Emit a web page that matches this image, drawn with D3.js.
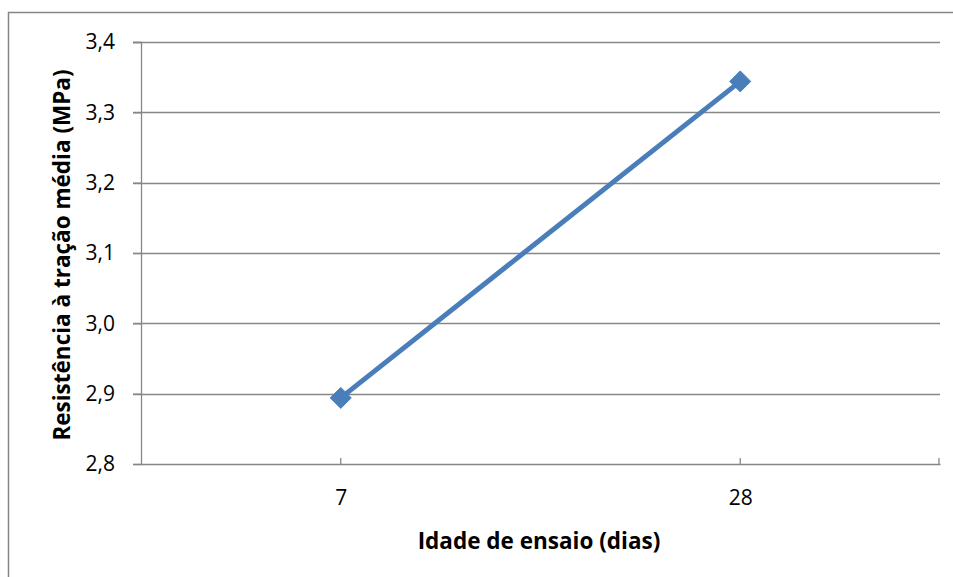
<!DOCTYPE html>
<html>
<head>
<meta charset="utf-8">
<script src="https://cdn.jsdelivr.net/npm/d3@7"></script>
<style>
  html, body { margin: 0; padding: 0; background: #fff; }
  svg { display: block; }
  text { font-family: "Open Sans", sans-serif; fill: #000; }
</style>
</head>
<body>
<svg id="chart" width="953" height="577"></svg>
<script>
// Ensaio de tração: resistência média por idade
const categories = ["7", "28"];
const values = [2.894, 3.344];
const yTicks = [2.8, 2.9, 3.0, 3.1, 3.2, 3.3, 3.4];

const svg = d3.select("#chart");
const W = 953, H = 577;
const m = { left: 141, right: 13, top: 42, bottom: 113 };
const plotW = W - m.left - m.right;
const plotH = H - m.top - m.bottom;
const FONT = "'Open Sans', sans-serif";

// outer chart frame
svg.append("rect")
  .attr("x", 8.5).attr("y", 12.5)
  .attr("width", W).attr("height", H)
  .attr("fill", "none").attr("stroke", "#868686").attr("stroke-width", 1.5);

const g = svg.append("g").attr("transform", `translate(${m.left},${m.top})`);

const x = d3.scalePoint().domain(categories).range([0, plotW]).padding(0.5);
const y = d3.scaleLinear().domain([2.8, 3.4]).range([plotH, 0]);
const fmt = v => d3.format(".1f")(v).replace(".", ",");

// horizontal gridlines
g.append("g").selectAll("line").data(yTicks.slice(1)).join("line")
  .attr("x1", -8).attr("x2", plotW)
  .attr("y1", d => Math.round(y(d)) + 0.5).attr("y2", d => Math.round(y(d)) + 0.5)
  .attr("stroke", "#878787").attr("stroke-width", 1.3);

// y axis
const yAxis = g.append("g")
  .call(d3.axisLeft(y).tickValues(yTicks).tickFormat(fmt).tickSize(8).tickPadding(18));
yAxis.select(".domain").attr("stroke", "#878787").attr("stroke-width", 1.3);
yAxis.selectAll(".tick line").attr("stroke", "#878787").attr("stroke-width", 1.3);
yAxis.selectAll(".tick text").style("font-size", "21px").style("font-family", FONT).attr("fill", "#000");

// x axis
const xAxis = g.append("g").attr("transform", `translate(0,${plotH})`)
  .call(d3.axisBottom(x).tickSize(0).tickPadding(26));
xAxis.select(".domain").attr("stroke", "#878787").attr("stroke-width", 1.3);
xAxis.selectAll(".tick text").style("font-size", "21px").style("font-family", FONT).attr("fill", "#000");
// inward tick marks at categories and at the right end
const xt = categories.map(c => x(c)).concat([plotW - 1]);
g.append("g").selectAll("line").data(xt).join("line")
  .attr("x1", d => d).attr("x2", d => d)
  .attr("y1", plotH - 6).attr("y2", plotH)
  .attr("stroke", "#878787").attr("stroke-width", 1.3);

// series line
const pts = categories.map((c, i) => [x(c), y(values[i])]);
g.append("path")
  .attr("d", d3.line()(pts))
  .attr("fill", "none").attr("stroke", "#4A7EBB").attr("stroke-width", 5)
  .attr("stroke-linecap", "round");

// diamond markers
g.selectAll(".mk").data(pts).join("path")
  .attr("class", "mk")
  .attr("transform", d => `translate(${d[0]},${d[1]})`)
  .attr("d", "M0,-10.5L10.5,0L0,10.5L-10.5,0Z")
  .attr("fill", "#4A7EBB").attr("stroke", "#4A7EBB").attr("stroke-width", 1);

// axis titles
svg.append("text")
  .attr("x", 539).attr("y", 549)
  .attr("text-anchor", "middle")
  .style("font-family", FONT).style("font-size", "22.5px").style("font-weight", "bold")
  .text("Idade de ensaio (dias)");

svg.append("text")
  .attr("transform", "translate(70,255) rotate(-90)")
  .attr("text-anchor", "middle")
  .style("font-family", FONT).style("font-size", "22.5px").style("font-weight", "bold")
  .text("Resistência à tração média (MPa)");
</script>
</body>
</html>
